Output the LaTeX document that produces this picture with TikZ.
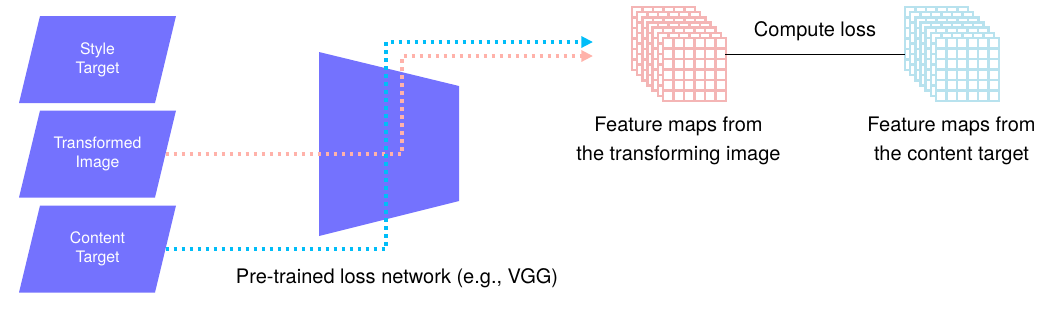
\documentclass[tikz,border=0pt]{standalone}
\usepackage{fontspec}
\setmainfont{TeX Gyre Heros}
\usepackage{xcolor}
\usetikzlibrary{positioning,arrows.meta,calc}
\definecolor{netpurple}{HTML}{7472FE}
\definecolor{flowblue}{HTML}{00BDF8}
\definecolor{flowpink}{HTML}{FFB2AA}
\definecolor{gridpink}{HTML}{F4B5B5}
\definecolor{gridblue}{HTML}{B8E2EE}

\begin{document}
\begin{tikzpicture}[
        x=0.5pt, y=-0.5pt,
        font=\fontsize{10}{14.5}\selectfont,
        inbox/.style={text=white, align=center, inner sep=0pt,
                      font=\fontsize{7.9}{9.5}\selectfont},
        fmap/.style={minimum width=46.5pt, minimum height=47pt, inner sep=0pt},
        caption/.style={align=center, inner sep=0pt},
        flow/.style={line width=1.7pt, dash pattern=on 1.7pt off 2.3pt,
                     -{Triangle[length=5.8pt,width=5.5pt]}}
    ]
    \useasboundingbox (0,0) rectangle (1061,313);

    % Inputs (parallelograms)
    \foreach \n/\y/\txt in {style/59.5/{Style\\Target}, trans/154/{Transformed\\Image},
                            content/249/{Content\\Target}} {
        \fill[netpurple] (97.5,\y) ++(-57.5,-43.5) -- ++(136,0) -- ++(-21,87) -- ++(-136,0) -- cycle;
        \node[inbox] (\n) at (97.5,\y) {\txt};
        \coordinate (\n-r) at (165.5,\y);
    }

    % Loss network
    \fill[netpurple] (319,52) -- (459,86) -- (459,201) -- (319,236) -- cycle;
    \coordinate (vgg) at (389,144);
    \node[caption] (vggcap) at (397,278) {Pre-trained loss network (e.g., VGG)};

    % Feature map stacks
    \node[fmap] (fmT) at (678.5,54) {};
    \node[fmap] (fmC) at (951.5,54) {};
    \foreach \c/\x in {gridpink/632, gridblue/905}
        \foreach \k in {0,...,6} {
            \begin{scope}[shift={(\x+\k*5.17,7+\k*5.17)}, draw=\c, line width=1.3pt]
                \filldraw[fill=white] (0,0) rectangle (63,63);
                \foreach \i in {1,...,5} {
                    \draw (\i*10.5,0) -- (\i*10.5,63);
                    \draw (0,\i*10.5) -- (63,\i*10.5);
                }
            \end{scope}
        }
    \node[caption, below=7.6pt of fmT] (capT) {Feature maps from\\the transforming image};
    \node[caption, below=7.6pt of fmC] (capC) {Feature maps from\\the content target};
    \draw[black, line width=0.5pt] (fmT.east) -- (fmC.west) node[midway, above=3pt] {Compute loss};

    % Flows through the network
    \coordinate (pinkend) at (593,56);
    \coordinate (blueend) at (593,42);
    \draw[flow, flowpink] (trans-r) -- (402,154) |- (pinkend);
    \draw[flow, flowblue] (content-r) -- (386,249) |- (blueend);
\end{tikzpicture}
\end{document}
